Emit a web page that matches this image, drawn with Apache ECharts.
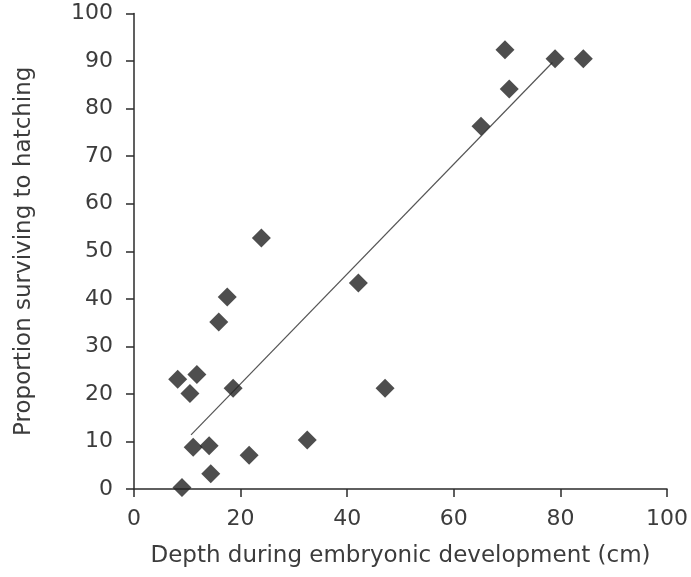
<!DOCTYPE html>
<html>
<head>
<meta charset="utf-8">
<script src="https://cdn.jsdelivr.net/npm/echarts@6/dist/echarts.min.js"></script>
<style>
html,body{margin:0;padding:0;background:#fff;}
#chart{width:691px;height:577px;}
</style>
</head>
<body>
<div id="chart"></div>
<script>
// Data
var depth    = [8.2, 11.8, 10.5, 18.6, 47.1, 11.1, 14.1, 21.6, 32.5, 14.4, 9.0, 23.9, 17.5, 15.9, 42.1, 69.6, 79.0, 84.3, 70.4, 65.1];
var survival = [23.1, 24.1, 20.1, 21.2, 21.2, 8.8, 9.1, 7.1, 10.3, 3.2, 0.3, 52.8, 40.4, 35.1, 43.3, 92.4, 90.5, 90.5, 84.1, 76.3];
var fitX = [10.7, 78.5];
var fitY = [11.4, 89.7];
var xTitle = 'Depth during embryonic development (cm)';
var yTitle = 'Proportion surviving to hatching';

var points = depth.map(function (d, i) { return [d, survival[i]]; });
var fitLine = fitX.map(function (d, i) { return [d, fitY[i]]; });

var chart = echarts.init(document.getElementById('chart'));
var labelStyle = { color: '#3c3c3c', fontFamily: 'DejaVu Sans', fontSize: 22 };
chart.setOption({
  animation: false,
  backgroundColor: '#ffffff',
  grid: { left: 134, right: 23, top: 13.5, bottom: 88, containLabel: false },
  xAxis: {
    type: 'value', min: 0, max: 100, interval: 20,
    name: xTitle, nameLocation: 'middle', nameGap: 56,
    nameTextStyle: { color: '#3c3c3c', fontFamily: 'DejaVu Sans', fontSize: 23 },
    axisLine: { show: true, onZero: false, lineStyle: { color: '#2b2b2b', width: 1.5 } },
    axisTick: { show: true, inside: false, length: 8, lineStyle: { color: '#2b2b2b', width: 1.5 } },
    axisLabel: Object.assign({ margin: 19 }, labelStyle),
    splitLine: { show: false }
  },
  yAxis: {
    type: 'value', min: 0, max: 100, interval: 10,
    name: yTitle, nameLocation: 'middle', nameGap: 98, nameRotate: 90,
    nameTextStyle: { color: '#3c3c3c', fontFamily: 'DejaVu Sans', fontSize: 23 },
    axisLine: { show: true, onZero: false, lineStyle: { color: '#2b2b2b', width: 1.5 } },
    axisTick: { show: true, inside: false, length: 8, lineStyle: { color: '#2b2b2b', width: 1.5 } },
    axisLabel: Object.assign({ margin: 21 }, labelStyle),
    splitLine: { show: false }
  },
  series: [
    {
      type: 'line', data: fitLine, symbol: 'none', silent: true,
      lineStyle: { color: '#555555', width: 1.2 }, z: 1
    },
    {
      type: 'scatter', data: points, symbol: 'diamond', symbolSize: 19,
      itemStyle: { color: '#222222' }, z: 2
    }
  ]
});
</script>
</body>
</html>
